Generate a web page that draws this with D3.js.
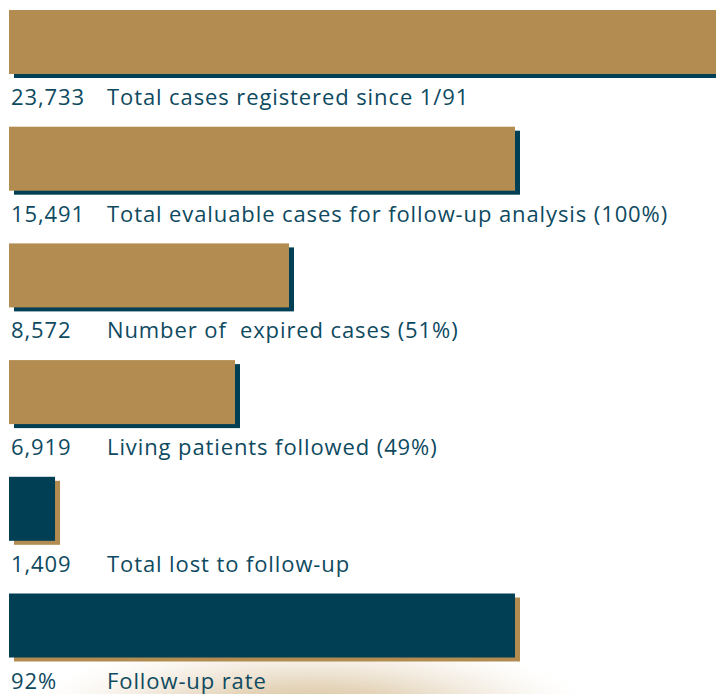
<!DOCTYPE html>
<html>
<head>
<meta charset="utf-8">
<script src="https://cdn.jsdelivr.net/npm/d3@7"></script>
<style>
  html, body { margin: 0; padding: 0; background: #ffffff; }
  svg { display: block; }
  text { white-space: pre; }
</style>
</head>
<body>
<div id="chart"></div>
<script>
// ---- Data ----
const valueLabels = ["23,733", "15,491", "8,572", "6,919", "1,409", "92%"];
const descriptions = [
  "Total cases registered since 1/91",
  "Total evaluable cases for follow-up analysis (100%)",
  "Number of  expired cases (51%)",
  "Living patients followed (49%)",
  "Total lost to follow-up",
  "Follow-up rate"
];
const counts = [23733, 15491, 8572, 6919, 1409, null];
const rateValues = [null, null, null, null, null, 92];
const kinds = ["count", "count", "count", "count", "count", "rate"];

// ---- Layout ----
const W = 716, H = 694;
const left = 9;
const svg = d3.select("#chart").append("svg").attr("width", W).attr("height", H);

const gold = "#b28c50", teal = "#013f55", textColor = "#0e4a5f";

// background glow (faint photo behind bottom)
const defs = svg.append("defs");
const rg = defs.append("radialGradient").attr("id", "glow")
  .attr("cx", "50%").attr("cy", "50%").attr("r", "50%");
rg.append("stop").attr("offset", "0%").attr("stop-color", "#d2b88e").attr("stop-opacity", 1);
rg.append("stop").attr("offset", "40%").attr("stop-color", "#e0cdae").attr("stop-opacity", 0.85);
rg.append("stop").attr("offset", "75%").attr("stop-color", "#f1e8db").attr("stop-opacity", 0.55);
rg.append("stop").attr("offset", "100%").attr("stop-color", "#fbf7ef").attr("stop-opacity", 0);
svg.append("ellipse").attr("cx", 310).attr("cy", 720).attr("rx", 290).attr("ry", 85)
  .attr("fill", "url(#glow)");

const y = d3.scaleBand().domain(d3.range(valueLabels.length)).range([10, 10 + 116.7 * 6]).paddingInner(0).paddingOuter(0);
const barH = 64;
const xCount = d3.scaleLinear().domain([0, 15491]).range([0, 506]);
const xRate = d3.scaleLinear().domain([0, 100]).range([0, 550]);

function barW(i) {
  return kinds[i] === "rate" ? xRate(rateValues[i]) : xCount(counts[i]);
}
const barColor = i => (i >= 4 ? teal : gold);
const shadowColor = i => (i >= 4 ? gold : teal);

const rows = svg.selectAll("g.row").data(d3.range(valueLabels.length)).join("g")
  .attr("class", "row")
  .attr("transform", i => `translate(0,${y(i)})`);

rows.append("rect").attr("x", left + 5).attr("y", 4)
  .attr("width", i => barW(i)).attr("height", barH)
  .attr("fill", i => shadowColor(i));
rows.append("rect").attr("x", left).attr("y", 0)
  .attr("width", i => barW(i)).attr("height", barH)
  .attr("fill", i => barColor(i));

const font = "'Open Sans', sans-serif";
rows.append("text").attr("x", 11).attr("y", 95)
  .attr("font-family", font).attr("font-size", 22).attr("letter-spacing", 0.9)
  .attr("fill", textColor)
  .text(i => valueLabels[i]);
rows.append("text").attr("x", 107).attr("y", 95)
  .attr("font-family", font).attr("font-size", 22).attr("letter-spacing", 0.9)
  .attr("fill", textColor)
  .text(i => descriptions[i]);
</script>
</body>
</html>
